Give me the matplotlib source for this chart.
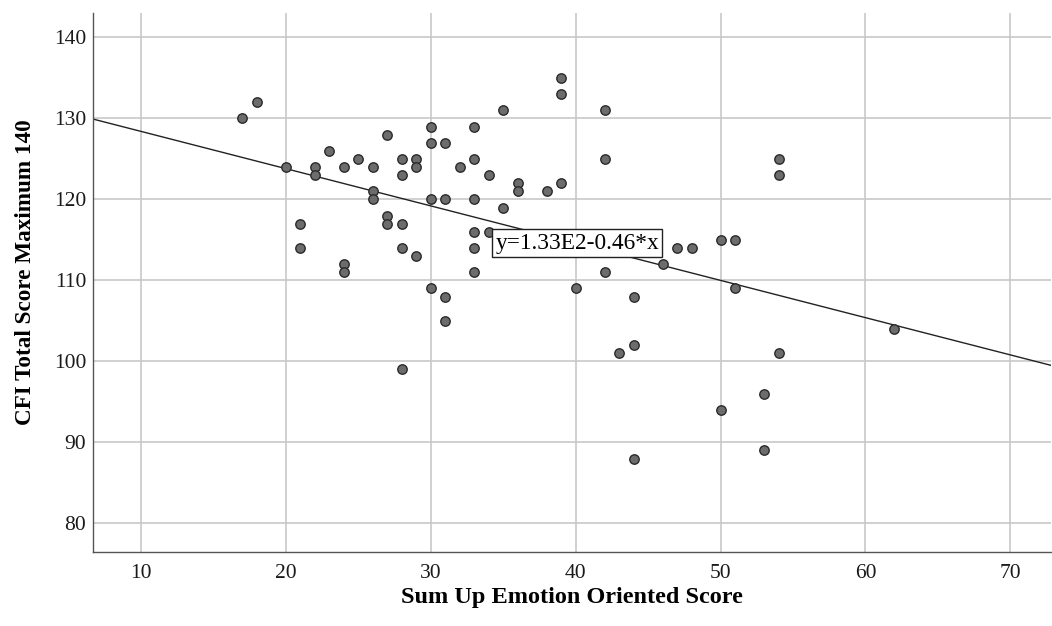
import numpy as np
import matplotlib
matplotlib.use("Agg")
import matplotlib.pyplot as plt

plt.rcParams['font.family'] = ['Liberation Serif', 'DejaVu Serif']

# emotion oriented score vs. CFI total score
emotion = [17, 18, 20, 21, 21, 22, 22, 23, 24, 24, 24, 25, 26, 26, 26, 27, 27, 27,
           28, 28, 28, 28, 28, 29, 29, 29, 30, 30, 30, 30, 31, 31, 31, 31, 32, 33,
           33, 33, 33, 33, 33, 34, 34, 35, 35, 36, 36, 38, 39, 39, 39, 40, 42, 42,
           42, 43, 44, 44, 44, 46, 47, 48, 50, 50, 51, 51, 53, 53, 54, 54, 54, 62]
cfi = [130, 132, 124, 117, 114, 124, 123, 126, 124, 112, 111, 125, 124, 121, 120, 128, 118, 117,
       125, 123, 117, 114, 99, 125, 124, 113, 129, 127, 120, 109, 127, 120, 108, 105, 124, 129,
       125, 120, 116, 114, 111, 123, 116, 131, 119, 122, 121, 121, 135, 133, 122, 109, 131, 125,
       111, 101, 108, 102, 88, 112, 114, 114, 115, 94, 115, 109, 96, 89, 125, 123, 101, 104]

# fitted line as reported
intercept = 133.0
slope = -0.46

fig = plt.figure(figsize=(10.52, 6.26), dpi=100)
ax = fig.add_axes([0.0884, 0.1187, 0.9106, 0.8603])

xlim = (6.69, 72.8)
ax.set_xlim(*xlim)
ax.set_ylim(76.5, 143.0)

ax.grid(True, color='#c8c8c8', linewidth=1.2)
ax.set_axisbelow(True)

xs = np.array(xlim)
ax.plot(xs, intercept + slope * xs, color='#222222', linewidth=1.0, zorder=2)

ax.scatter(emotion, cfi, s=46, facecolor='#6c6c6c', edgecolor='#2a2a2a',
           linewidth=1.0, zorder=3)

ax.text(34.45, 114.6, 'y=1.33E2-0.46*x', fontsize=16.8, va='center', ha='left',
        zorder=4, bbox=dict(boxstyle='square,pad=0.14', facecolor='white',
                            edgecolor='#222222', linewidth=1.0))

ax.set_xticks([10, 20, 30, 40, 50, 60, 70])
ax.set_yticks([80, 90, 100, 110, 120, 130, 140])
ax.tick_params(length=0, labelsize=15.5, colors='#1a1a1a')
ax.tick_params(axis='x', pad=9)
ax.tick_params(axis='y', pad=5)

for s in ['top', 'right']:
    ax.spines[s].set_visible(False)
for s in ['left', 'bottom']:
    ax.spines[s].set_color('#555555')
    ax.spines[s].set_linewidth(1.0)

ax.set_xlabel('Sum Up Emotion Oriented Score', fontsize=17.5, fontweight='bold',
              va='center')
ax.xaxis.set_label_coords(0.5, -0.0855)
ax.set_ylabel('CFI Total Score Maximum 140', fontsize=16.7, fontweight='bold',
              va='center')
ax.yaxis.set_label_coords(-0.0709, 0.52)

fig.savefig('out.png', dpi=100)
